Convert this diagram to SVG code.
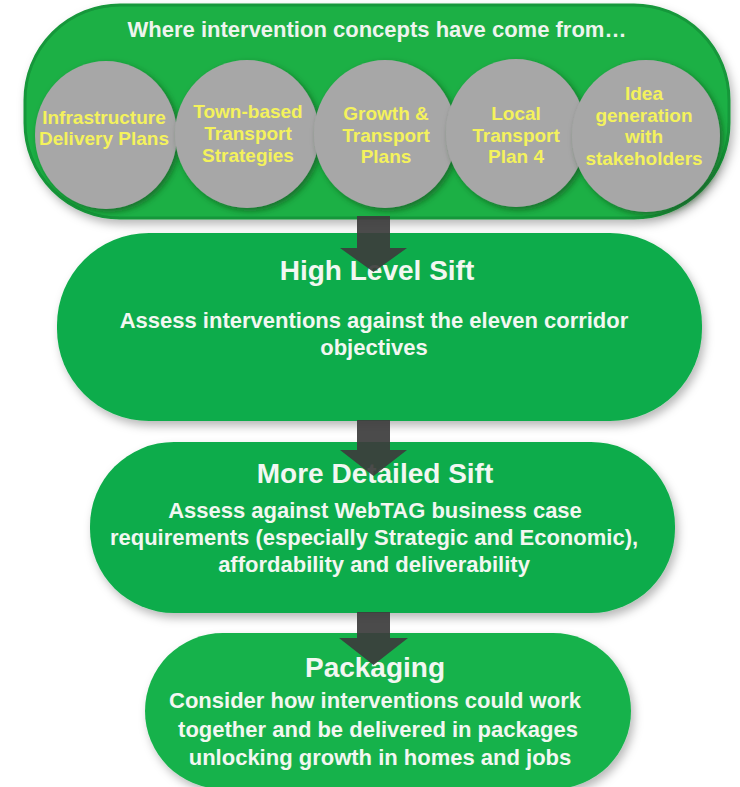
<svg xmlns="http://www.w3.org/2000/svg" width="740" height="787" viewBox="0 0 740 787">
  <style>
    .box { fill: #10ac4b; filter: url(#shadow); }
    .oval { fill: #a7a7a7; filter: url(#ovalShadow); }
    .otxt { font-family: "Liberation Sans", Arial, sans-serif; font-weight: bold; font-size: 19px; fill: #f4f25c; text-anchor: middle; }
    .title { font-family: "Liberation Sans", Arial, sans-serif; font-weight: bold; font-size: 28px; fill: #f2f7f1; text-anchor: middle; }
    .body { font-family: "Liberation Sans", Arial, sans-serif; font-weight: bold; font-size: 22px; fill: #f2f7f1; text-anchor: middle; }
    .arrow { fill: #3c3c3c; }
  </style>
  <defs>
    <filter id="shadow" x="-10%" y="-10%" width="125%" height="135%">
      <feDropShadow dx="3" dy="5" stdDeviation="5" flood-color="#000" flood-opacity="0.28"/>
    </filter>
    <filter id="ovalShadow" x="-20%" y="-20%" width="145%" height="145%">
      <feDropShadow dx="3" dy="3" stdDeviation="3" flood-color="#0a3a14" flood-opacity="0.55"/>
    </filter>
  </defs>
  <rect width="740" height="787" fill="#ffffff"/>

  <g id="node-sources">
    <rect x="25" y="5" width="704" height="213" rx="95" ry="95" fill="#1cb045" stroke="#17973a" stroke-width="3" filter="url(#shadow)"/>
    <text x="377" y="37" font-family="Liberation Sans, Arial, sans-serif" font-weight="bold" font-size="22" fill="#eef4ee" text-anchor="middle">Where intervention concepts have come from…</text>
    <g id="node-idp">
      <ellipse class="oval" cx="106" cy="135" rx="71" ry="74"/>
      <text class="otxt"><tspan x="104" y="124">Infrastructure</tspan><tspan x="104" y="145">Delivery Plans</tspan></text>
    </g>
    <g id="node-town">
      <ellipse class="oval" cx="247" cy="134" rx="72" ry="74"/>
      <text class="otxt"><tspan x="248" y="118">Town-based</tspan><tspan x="248" y="140">Transport</tspan><tspan x="248" y="162">Strategies</tspan></text>
    </g>
    <g id="node-growth">
      <ellipse class="oval" cx="385" cy="134" rx="71" ry="74"/>
      <text class="otxt"><tspan x="386" y="120">Growth &amp;</tspan><tspan x="386" y="142">Transport</tspan><tspan x="386" y="163">Plans</tspan></text>
    </g>
    <g id="node-ltp4">
      <ellipse class="oval" cx="516" cy="133" rx="70" ry="74"/>
      <text class="otxt"><tspan x="516" y="120">Local</tspan><tspan x="516" y="142">Transport</tspan><tspan x="516" y="163">Plan 4</tspan></text>
    </g>
    <g id="node-ideas">
      <ellipse class="oval" cx="646" cy="136" rx="74" ry="76"/>
      <text class="otxt"><tspan x="644" y="100">Idea</tspan><tspan x="644" y="122">generation</tspan><tspan x="644" y="143">with</tspan><tspan x="644" y="165">stakeholders</tspan></text>
    </g>
  </g>

  <g id="node-high-level-sift">
    <rect class="box" x="57" y="233" width="645" height="188" rx="92" ry="92"/>
    <text class="title" x="377" y="280">High Level Sift</text>
    <text class="body"><tspan x="374" y="328">Assess interventions against the eleven corridor</tspan><tspan x="374" y="355">objectives</tspan></text>
  </g>

  <g id="node-detailed-sift">
    <rect class="box" x="90" y="442" width="585" height="171" rx="84" ry="84"/>
    <text class="title" x="375" y="483">More Detailed Sift</text>
    <text class="body"><tspan x="375" y="518">Assess against WebTAG business case</tspan><tspan x="374" y="545">requirements (especially Strategic and Economic),</tspan><tspan x="374" y="572">affordability and deliverability</tspan></text>
  </g>

  <g id="node-packaging">
    <rect class="box" x="145" y="633" width="486" height="156" rx="78" ry="78" fill="#16b24c" style="fill:#16b24c"/>
    <text class="title" x="375" y="677">Packaging</text>
    <text class="body"><tspan x="375" y="708">Consider how interventions could work</tspan><tspan x="378" y="737">together and be delivered in packages</tspan><tspan x="380" y="765">unlocking growth in homes and jobs</tspan></text>
  </g>

  <g id="connectors">
    <path class="arrow" d="M357,216 H390 V248 H407 L373.5,272 L340,248 H357 Z" fill-opacity="0.92"/>
    <path class="arrow" d="M357,420 H390 V450 H407 L373.5,476 L340,450 H357 Z" fill-opacity="0.92"/>
    <path class="arrow" d="M357,612 H390 V638 H408 L373.5,665 L339,638 H357 Z" fill-opacity="0.92"/>
  </g>
</svg>
